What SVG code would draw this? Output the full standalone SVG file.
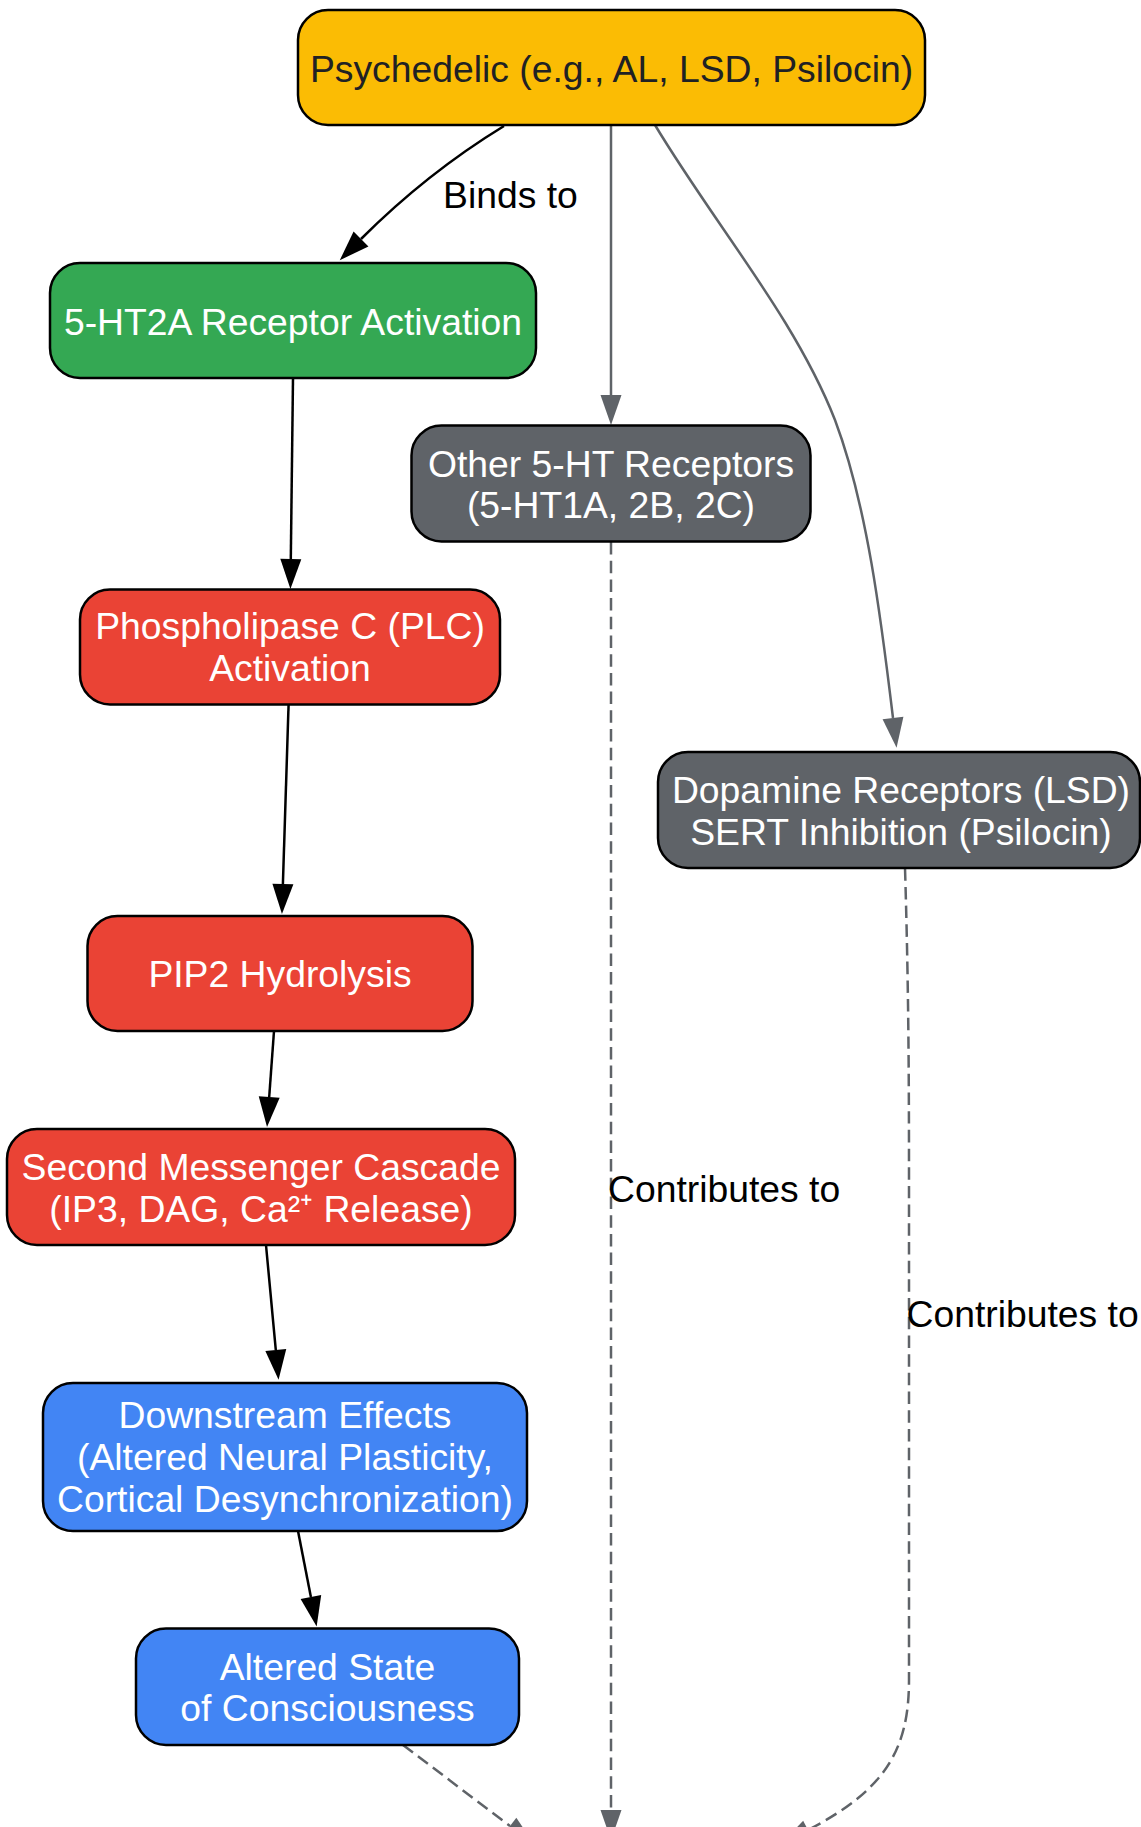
<svg xmlns="http://www.w3.org/2000/svg" width="1141" height="1827" viewBox="0 0 1141 1827">
<defs>
<style>
.node rect{stroke:#000;stroke-width:2.5}
.t{font-family:"Liberation Sans",Arial,sans-serif;font-size:37.3px;text-anchor:middle;fill:#fff}
.dark{fill:#202124}
.lbl{font-family:"Liberation Sans",Arial,sans-serif;font-size:37.3px;fill:#000}
.e{fill:none;stroke:#000;stroke-width:2.5}
.g{fill:none;stroke:#5f6368;stroke-width:2.5}
.d{stroke-dasharray:12.5,6.2}
</style>
<marker id="ab" markerUnits="userSpaceOnUse" markerWidth="31" markerHeight="22" refX="0" refY="10.5" orient="auto" overflow="visible"><path d="M0,0 L30,10.5 L0,21 z" fill="#000"/></marker>
<marker id="ag" markerUnits="userSpaceOnUse" markerWidth="31" markerHeight="22" refX="0" refY="10.5" orient="auto" overflow="visible"><path d="M0,0 L30,10.5 L0,21 z" fill="#5f6368"/></marker>
</defs>
<rect width="1141" height="1827" fill="#fff"/>
<g id="connectors">
<path class="e" d="M504,126 C468,148 418,182 361,239" marker-end="url(#ab)"/>
<path class="g" d="M611,125 L611,395" marker-end="url(#ag)"/>
<path class="g" d="M655,125 C715,225 795,318 835,420 C867,505 881,618 893,718" marker-end="url(#ag)"/>
<path class="e" d="M293,378 L290.8,559" marker-end="url(#ab)"/>
<path class="e" d="M288.6,704 L282.9,884" marker-end="url(#ab)"/>
<path class="e" d="M274,1031 L269.2,1097" marker-end="url(#ab)"/>
<path class="e" d="M266,1245 L275.8,1350" marker-end="url(#ab)"/>
<path class="e" d="M298,1531 L310.9,1597" marker-end="url(#ab)"/>
<path class="g d" d="M611,542 L611,1810" marker-end="url(#ag)"/>
<path class="g d" d="M905,868 C909,1000 909,1100 909,1200 L909,1680 C909,1750 885,1790 808,1830" marker-end="url(#ag)"/>
<path class="g d" d="M403,1745 L510,1826" marker-end="url(#ag)"/>
<text class="lbl" x="443" y="208">Binds to</text>
<text class="lbl" x="608" y="1202">Contributes to</text>
<text class="lbl" x="906.5" y="1327">Contributes to</text>
</g>
<g id="psychedelic" class="node"><rect x="298" y="10" width="627" height="115" rx="30" fill="#FBBC04"/><text class="t dark" x="611.5" y="82">Psychedelic (e.g., AL, LSD, Psilocin)</text></g>
<g id="ht2a" class="node"><rect x="50" y="263" width="486" height="115" rx="30" fill="#34A853"/><text class="t" x="293" y="335">5-HT2A Receptor Activation</text></g>
<g id="other5ht" class="node"><rect x="411.5" y="425.5" width="399" height="116" rx="30" fill="#5F6368"/><text class="t" x="611" y="477">Other 5-HT Receptors</text><text class="t" x="611" y="518">(5-HT1A, 2B, 2C)</text></g>
<g id="dopamine" class="node"><rect x="658" y="752" width="482" height="116" rx="30" fill="#5F6368"/><text class="t" x="901" y="803">Dopamine Receptors (LSD)</text><text class="t" x="901" y="845">SERT Inhibition (Psilocin)</text></g>
<g id="plc" class="node"><rect x="80" y="589.5" width="420" height="115" rx="30" fill="#EA4335"/><text class="t" x="290" y="639">Phospholipase C (PLC)</text><text class="t" x="290" y="681">Activation</text></g>
<g id="pip2" class="node"><rect x="87.5" y="916" width="385" height="115" rx="30" fill="#EA4335"/><text class="t" x="280" y="987">PIP2 Hydrolysis</text></g>
<g id="secondmsg" class="node"><rect x="7" y="1129" width="508" height="116" rx="30" fill="#EA4335"/><text class="t" x="261" y="1180">Second Messenger Cascade</text><text class="t" x="261" y="1222">(IP3, DAG, Ca²⁺ Release)</text></g>
<g id="downstream" class="node"><rect x="43" y="1383" width="484" height="148" rx="30" fill="#4285F4"/><text class="t" x="285" y="1428">Downstream Effects</text><text class="t" x="285" y="1470">(Altered Neural Plasticity,</text><text class="t" x="285" y="1512">Cortical Desynchronization)</text></g>
<g id="altered" class="node"><rect x="136" y="1628.5" width="383" height="116.5" rx="30" fill="#4285F4"/><text class="t" x="327.5" y="1680">Altered State</text><text class="t" x="327.5" y="1721">of Consciousness</text></g>
</svg>
